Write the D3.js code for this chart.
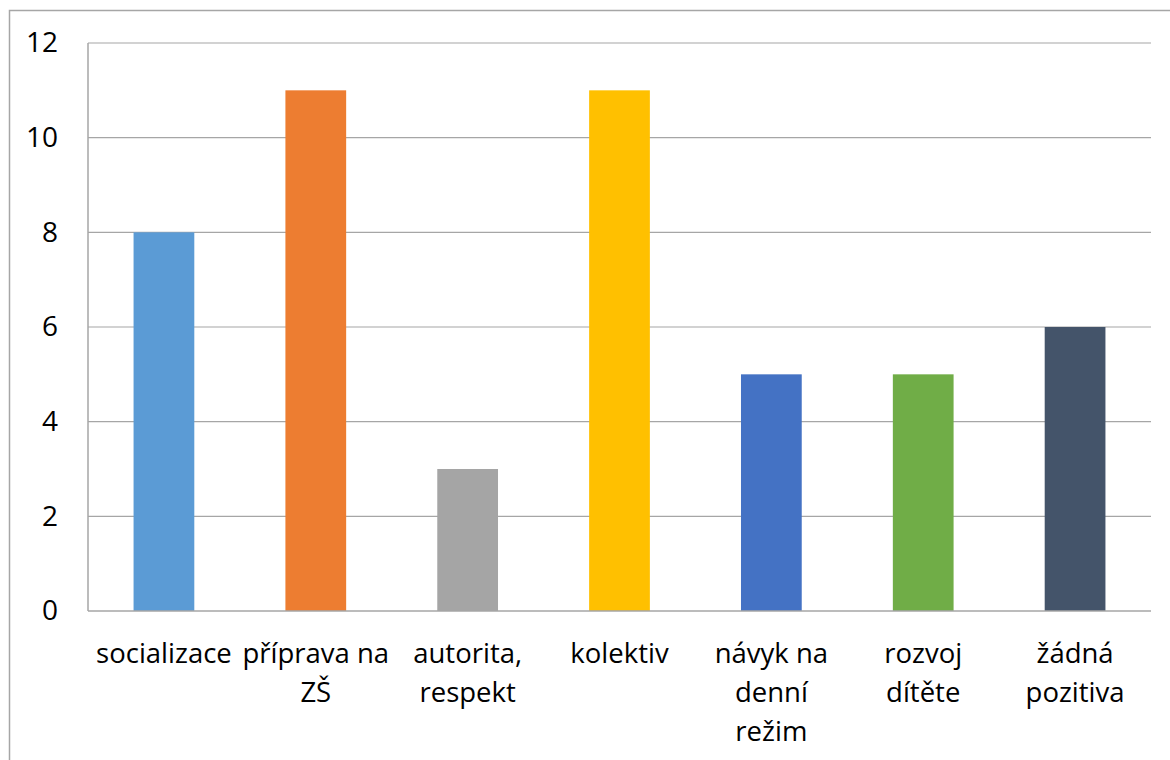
<!DOCTYPE html>
<html>
<head>
<meta charset="utf-8">
<script src="https://cdn.jsdelivr.net/npm/d3@7"></script>
<style>
  body { margin: 0; background: #fff; }
  svg { display: block; font-family: "Open Sans", sans-serif; }
</style>
</head>
<body>
<svg id="chart" width="1170" height="760"></svg>
<script>
const categories = [
  "socializace",
  "příprava na\nZŠ",
  "autorita,\nrespekt",
  "kolektiv",
  "návyk na\ndenní\nrežim",
  "rozvoj\ndítěte",
  "žádná\npozitiva"
]
const counts = [8, 11, 3, 11, 5, 5, 6]
const colors = ["#5B9BD5", "#ED7D31", "#A5A5A5", "#FFC000", "#4472C4", "#70AD47", "#44546A"]
const yTicks = [0, 2, 4, 6, 8, 10, 12]

const data = categories.map((c, i) => ({ name: c, count: counts[i], color: colors[i] }))

const svg = d3.select("#chart")

// chart frame, runs off the right and bottom edge like the screenshot
svg.append("rect")
  .attr("x", 9.5).attr("y", 10.5)
  .attr("width", 1200).attr("height", 800)
  .attr("fill", "none").attr("stroke", "#a6a6a6").attr("stroke-width", 1.5)

const x = d3.scaleBand()
  .domain(categories)
  .range([88, 1151])
  .paddingInner(0.6)
  .paddingOuter(0.3)

const y = d3.scaleLinear()
  .domain([0, 12])
  .range([611, 43])

// gridlines
svg.append("g")
  .selectAll("line")
  .data(yTicks.filter(d => d > 0))
  .join("line")
  .attr("x1", 88).attr("x2", 1151)
  .attr("y1", d => y(d)).attr("y2", d => y(d))
  .attr("stroke", "#a6a6a6").attr("stroke-width", 1.2)

// plot left edge
svg.append("line")
  .attr("x1", 88).attr("x2", 88)
  .attr("y1", y(12)).attr("y2", y(0))
  .attr("stroke", "#a6a6a6").attr("stroke-width", 1.5)

// bars
svg.append("g")
  .selectAll("rect")
  .data(data)
  .join("rect")
  .attr("x", d => x(d.name))
  .attr("width", x.bandwidth())
  .attr("y", d => y(d.count))
  .attr("height", d => y(0) - y(d.count))
  .attr("fill", d => d.color)

// x axis line
svg.append("line")
  .attr("x1", 88).attr("x2", 1151)
  .attr("y1", y(0)).attr("y2", y(0))
  .attr("stroke", "#a6a6a6").attr("stroke-width", 1.5)

// y axis labels
const yAxis = svg.append("g")
  .attr("transform", "translate(58,0)")
  .call(d3.axisLeft(y).tickValues(yTicks).tickSize(0).tickPadding(0))
  .attr("font-family", null)
  .attr("font-size", 28)
yAxis.select(".domain").remove()
yAxis.selectAll("text").attr("fill", "#000")

// x axis labels, wrapped
const xAxis = svg.append("g")
  .attr("transform", `translate(0,${y(0)})`)
  .call(d3.axisBottom(x).tickSize(0).tickFormat(""))
  .attr("font-family", null)
  .attr("font-size", 27.5)
xAxis.select(".domain").remove()
xAxis.selectAll(".tick").each(function (d) {
  const t = d3.select(this).append("text")
    .attr("fill", "#000")
    .attr("text-anchor", "middle")
  d.split("\n").forEach((line, i) => {
    t.append("tspan").attr("x", 0).attr("y", 52 + i * 39).text(line)
  })
})
</script>
</body>
</html>
